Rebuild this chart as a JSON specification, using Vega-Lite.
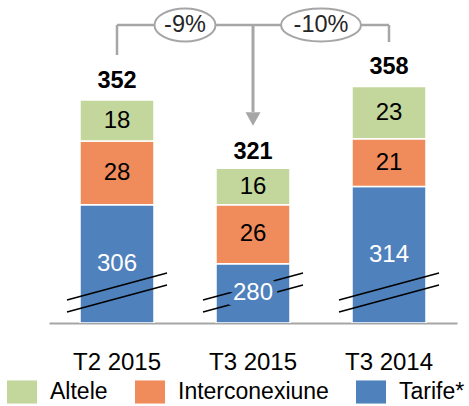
{
  "$schema": "https://vega.github.io/schema/vega-lite/v6.json",
  "width": 408,
  "height": 323,
  "autosize": "none",
  "padding": {"left": 49, "top": 0, "right": 12, "bottom": 83},
  "config": {"view": {"stroke": null}, "font": "Liberation Sans",
             "axisX": {"title": null, "domainColor": "#a6a6a6", "domainWidth": 2, "ticks": false, "labelFontSize": 24, "labelColor": "black", "labelPadding": 27, "labelAngle": 0, "grid": false, "zindex": 1}},
  "datasets": {
    "bars": [
      {"period": "T2 2015", "series": "Tarife*", "value": 306},
      {"period": "T2 2015", "series": "Interconexiune", "value": 28},
      {"period": "T2 2015", "series": "Altele", "value": 18},
      {"period": "T3 2015", "series": "Tarife*", "value": 280},
      {"period": "T3 2015", "series": "Interconexiune", "value": 26},
      {"period": "T3 2015", "series": "Altele", "value": 16},
      {"period": "T3 2014", "series": "Tarife*", "value": 314},
      {"period": "T3 2014", "series": "Interconexiune", "value": 21},
      {"period": "T3 2014", "series": "Altele", "value": 23}
    ],
    "totals": [
      {"period": "T2 2015", "total": 352},
      {"period": "T3 2015", "total": 321},
      {"period": "T3 2014", "total": 358}
    ],
    "changes": [
      {"from": "T2 2015", "label": "-9%"},
      {"from": "T3 2015", "label": "-10%"}
    ]
  },
  "layer": [
    {
      "data": {"name": "bars"},
      "transform": [{"stack": "value", "groupby": ["period"], "sort": [{"field": "series", "order": "descending"}], "as": ["v0", "v1"]}],
      "mark": {"type": "bar", "width": {"band": 0.544}, "stroke": "white", "strokeWidth": 1.5, "clip": true},
      "encoding": {
        "x": {"field": "period", "type": "nominal", "title": null, "scale": {"domain": ["T2 2015", "T3 2015", "T3 2014"], "paddingInner": 0, "paddingOuter": 0}},
        "y": {"field": "v0", "type": "quantitative", "scale": {"domain": [254, 396], "nice": false, "zero": false, "clamp": true}, "axis": null},
        "y2": {"field": "v1"},
        "color": {"field": "series", "type": "nominal",
                  "scale": {"domain": ["Altele", "Interconexiune", "Tarife*"], "range": ["#c3d69b", "#f08c5c", "#4f81bd"]},
                  "legend": {"orient": "none", "legendX": -42, "legendY": 377, "direction": "horizontal", "title": null,
                             "symbolType": "M-1,-0.77H1V0.77H-1Z", "symbolSize": 900, "symbolStrokeWidth": 0,
                             "labelFontSize": 23, "labelOffset": 13, "columnPadding": 27, "labelColor": "black", "padding": 0}}
      }
    },
    {
      "data": {"name": "bars"},
      "transform": [{"filter": "datum.series === 'Tarife*'"}],
      "mark": {"type": "point", "shape": "M-1,0.15L1,-0.39M-1,0.39L1,-0.15", "size": 10000, "filled": false, "stroke": "black", "strokeWidth": 1.5, "opacity": 1},
      "encoding": {
        "x": {"field": "period", "type": "nominal", "title": null, "scale": {"domain": ["T2 2015", "T3 2015", "T3 2014"], "paddingInner": 0, "paddingOuter": 0}},
        "y": {"datum": 267.4, "type": "quantitative", "scale": {"domain": [254, 396], "nice": false, "zero": false, "clamp": true}, "axis": null}
      }
    },
    {
      "data": {"name": "bars"},
      "transform": [
        {"filter": "datum.series === 'Tarife*'"},
        {"impute": "value", "key": "series", "keyvals": ["Tarife*", "axis floor"], "groupby": ["period"], "value": 254},
        {"aggregate": [{"op": "mean", "field": "value", "as": "mid"}, {"op": "max", "field": "value", "as": "label"}], "groupby": ["period"]}
      ],
      "mark": {"type": "text", "fontSize": 24, "baseline": "middle", "fill": "#4f81bd", "stroke": "#4f81bd", "strokeWidth": 10},
      "encoding": {
        "x": {"field": "period", "type": "nominal", "title": null, "scale": {"domain": ["T2 2015", "T3 2015", "T3 2014"], "paddingInner": 0, "paddingOuter": 0}},
        "y": {"field": "mid", "type": "quantitative", "scale": {"domain": [254, 396], "nice": false, "zero": false, "clamp": true}, "axis": null},
        "text": {"field": "label"}
      }
    },
    {
      "data": {"name": "bars"},
      "transform": [
        {"filter": "datum.series === 'Tarife*'"},
        {"impute": "value", "key": "series", "keyvals": ["Tarife*", "axis floor"], "groupby": ["period"], "value": 254},
        {"aggregate": [{"op": "mean", "field": "value", "as": "mid"}, {"op": "max", "field": "value", "as": "label"}], "groupby": ["period"]}
      ],
      "mark": {"type": "text", "fontSize": 24, "baseline": "middle", "fill": "white"},
      "encoding": {
        "x": {"field": "period", "type": "nominal", "title": null, "scale": {"domain": ["T2 2015", "T3 2015", "T3 2014"], "paddingInner": 0, "paddingOuter": 0}},
        "y": {"field": "mid", "type": "quantitative", "scale": {"domain": [254, 396], "nice": false, "zero": false, "clamp": true}, "axis": null},
        "text": {"field": "label"}
      }
    },
    {
      "data": {"name": "bars"},
      "transform": [
        {"stack": "value", "groupby": ["period"], "sort": [{"field": "series", "order": "descending"}], "as": ["v0", "v1"]},
        {"filter": "datum.series !== 'Tarife*'"},
        {"fold": ["v0", "v1"], "as": ["edge", "pos"]},
        {"aggregate": [{"op": "mean", "field": "pos", "as": "mid"}, {"op": "max", "field": "value", "as": "label"}], "groupby": ["period", "series"]}
      ],
      "mark": {"type": "text", "fontSize": 24, "baseline": "middle", "fill": "black"},
      "encoding": {
        "x": {"field": "period", "type": "nominal", "title": null, "scale": {"domain": ["T2 2015", "T3 2015", "T3 2014"], "paddingInner": 0, "paddingOuter": 0}},
        "y": {"field": "mid", "type": "quantitative", "scale": {"domain": [254, 396], "nice": false, "zero": false, "clamp": true}, "axis": null},
        "text": {"field": "label"}
      }
    },
    {
      "data": {"name": "totals"},
      "mark": {"type": "text", "fontSize": 23.5, "fontWeight": "bold", "baseline": "alphabetic", "dy": -12, "fill": "black"},
      "encoding": {
        "x": {"field": "period", "type": "nominal", "title": null, "scale": {"domain": ["T2 2015", "T3 2015", "T3 2014"], "paddingInner": 0, "paddingOuter": 0}},
        "y": {"field": "total", "type": "quantitative", "scale": {"domain": [254, 396], "nice": false, "zero": false, "clamp": true}, "axis": null},
        "text": {"field": "total"}
      }
    },
    {
      "data": {"values": [{}]},
      "mark": {"type": "rule", "stroke": "#a6a6a6", "strokeWidth": 2.5},
      "encoding": {
        "x": {"datum": "T2 2015", "type": "nominal", "title": null, "scale": {"domain": ["T2 2015", "T3 2015", "T3 2014"], "paddingInner": 0, "paddingOuter": 0}},
        "y": {"datum": 385, "type": "quantitative", "scale": {"domain": [254, 396], "nice": false, "zero": false, "clamp": true}, "axis": null},
        "y2": {"datum": 371.8}
      }
    },
    {
      "data": {"values": [{}]},
      "mark": {"type": "rule", "stroke": "#a6a6a6", "strokeWidth": 2.5},
      "encoding": {
        "x": {"datum": "T3 2014", "type": "nominal", "title": null, "scale": {"domain": ["T2 2015", "T3 2015", "T3 2014"], "paddingInner": 0, "paddingOuter": 0}},
        "y": {"datum": 385, "type": "quantitative", "scale": {"domain": [254, 396], "nice": false, "zero": false, "clamp": true}, "axis": null},
        "y2": {"datum": 377.5}
      }
    },
    {
      "data": {"values": [{}]},
      "mark": {"type": "rule", "stroke": "#a6a6a6", "strokeWidth": 2.5},
      "encoding": {
        "x": {"datum": "T2 2015", "type": "nominal", "title": null, "scale": {"domain": ["T2 2015", "T3 2015", "T3 2014"], "paddingInner": 0, "paddingOuter": 0}},
        "x2": {"datum": "T3 2014"},
        "y": {"datum": 385, "type": "quantitative", "scale": {"domain": [254, 396], "nice": false, "zero": false, "clamp": true}, "axis": null}
      }
    },
    {
      "data": {"values": [{}]},
      "mark": {"type": "rule", "stroke": "#a6a6a6", "strokeWidth": 3},
      "encoding": {
        "x": {"datum": "T3 2015", "type": "nominal", "title": null, "scale": {"domain": ["T2 2015", "T3 2015", "T3 2014"], "paddingInner": 0, "paddingOuter": 0}},
        "y": {"datum": 385, "type": "quantitative", "scale": {"domain": [254, 396], "nice": false, "zero": false, "clamp": true}, "axis": null},
        "y2": {"datum": 346.8}
      }
    },
    {
      "data": {"values": [{}]},
      "mark": {"type": "point", "shape": "M-1,-0.9L1,-0.9L0,0.9Z", "size": 225, "filled": true, "fill": "#a6a6a6", "opacity": 1, "strokeWidth": 0},
      "encoding": {
        "x": {"datum": "T3 2015", "type": "nominal", "title": null, "scale": {"domain": ["T2 2015", "T3 2015", "T3 2014"], "paddingInner": 0, "paddingOuter": 0}},
        "y": {"datum": 343.7, "type": "quantitative", "scale": {"domain": [254, 396], "nice": false, "zero": false, "clamp": true}, "axis": null}
      }
    },
    {
      "data": {"name": "changes"},
      "mark": {"type": "point", "filled": true, "fill": "white", "stroke": "#a6a6a6", "strokeWidth": 2, "opacity": 1},
      "encoding": {
        "x": {"field": "from", "type": "nominal", "title": null, "bandPosition": 1, "scale": {"domain": ["T2 2015", "T3 2015", "T3 2014"], "paddingInner": 0, "paddingOuter": 0}},
        "y": {"datum": 385, "type": "quantitative", "scale": {"domain": [254, 396], "nice": false, "zero": false, "clamp": true}, "axis": null},
        "shape": {"field": "label", "type": "nominal", "scale": {"domain": ["-9%", "-10%"], "range": ["M-1,0A1,0.54,0,1,0,1,0A1,0.54,0,1,0,-1,0Z", "M-1,0A1,0.41,0,1,0,1,0A1,0.41,0,1,0,-1,0Z"]}, "legend": null},
        "size": {"field": "label", "type": "ordinal", "scale": {"domain": ["-9%", "-10%"], "range": [3721, 6400]}, "legend": null}
      }
    },
    {
      "data": {"name": "changes"},
      "mark": {"type": "text", "fontSize": 23.5, "baseline": "middle", "fill": "#262626"},
      "encoding": {
        "x": {"field": "from", "type": "nominal", "title": null, "bandPosition": 1, "scale": {"domain": ["T2 2015", "T3 2015", "T3 2014"], "paddingInner": 0, "paddingOuter": 0}},
        "y": {"datum": 385, "type": "quantitative", "scale": {"domain": [254, 396], "nice": false, "zero": false, "clamp": true}, "axis": null},
        "text": {"field": "label"}
      }
    }
  ],
  "resolve": {"scale": {"shape": "independent", "size": "independent"}}
}
